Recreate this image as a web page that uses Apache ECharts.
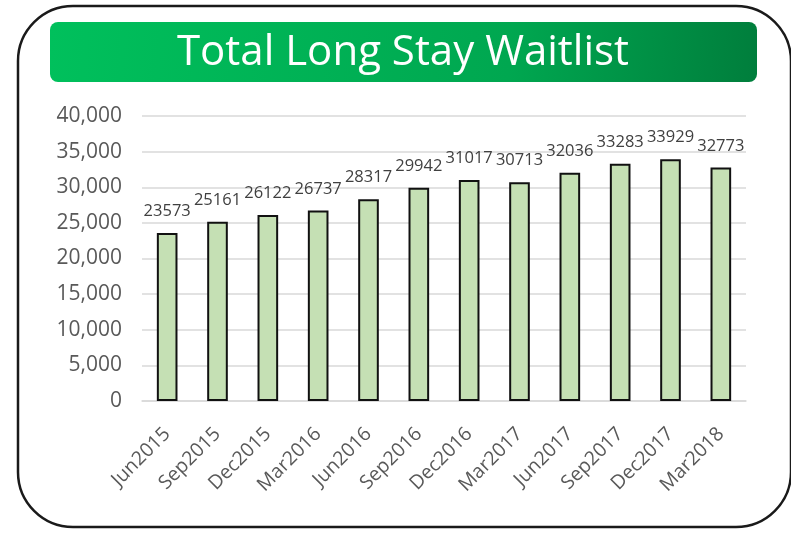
<!DOCTYPE html>
<html><head><meta charset="utf-8">
<script src="https://cdn.jsdelivr.net/npm/echarts@6/dist/echarts.min.js"></script>
<style>html,body{margin:0;padding:0;background:#fff}#c{width:791px;height:535px}</style>
</head><body><div id="c"></div>
<script>
const categories = ["Jun2015","Sep2015","Dec2015","Mar2016","Jun2016","Sep2016","Dec2016","Mar2017","Jun2017","Sep2017","Dec2017","Mar2018"];
const waitlist = [23573,25161,26122,26737,28317,29942,31017,30713,32036,33283,33929,32773];
const yTicks = {min:0, max:40000, interval:5000};
const titleText = "Total Long Stay Waitlist";

const chart = echarts.init(document.getElementById('c'), null, {renderer:'canvas'});
const FONT = "'Open Sans', 'Noto Sans', sans-serif";
chart.setOption({
  animation:false,
  backgroundColor:'#fff',
  graphic:[
    {type:'rect', z:-10, shape:{x:18,y:6,width:773,height:521,r:55}, style:{fill:'#fff',stroke:'#1a1a1a',lineWidth:2.5}},
    {type:'rect', z:-5, shape:{x:50,y:22,width:707,height:60,r:8},
      style:{fill:new echarts.graphic.LinearGradient(0,0,1,1,[{offset:0,color:'#00C05C'},{offset:0.65,color:'#00A750'},{offset:1,color:'#007E3C'}])}},
    {type:'text', z:10, style:{text:titleText, x:403, y:53, fill:'#fff', font:"42px 'Open Sans', sans-serif", align:'center', verticalAlign:'middle'}}
  ],
  grid:{left:142, right:45, top:116, bottom:134},
  xAxis:{type:'category', data:categories,
    axisLine:{show:true, lineStyle:{color:'#d9d9d9', width:1.5}},
    axisTick:{show:false},
    axisLabel:{rotate:45, color:'#595959', fontSize:19.5, fontFamily:FONT, margin:30, interval:0}},
  yAxis:{type:'value', min:yTicks.min, max:yTicks.max, interval:yTicks.interval,
    axisLine:{show:false}, axisTick:{show:false},
    splitLine:{lineStyle:{color:'#d9d9d9', width:1.5}},
    axisLabel:{color:'#595959', fontSize:21, fontFamily:FONT, margin:20,
      formatter:v=>v.toLocaleString('en-US')}},
  series:[{type:'bar', data:waitlist, barWidth:'41%',
    itemStyle:{color:'#C5E0B4', borderColor:'#111', borderWidth:2},
    label:{show:true, position:'top', distance:13, color:'#404040', fontSize:16.5, fontFamily:FONT}}]
});
</script></body></html>
